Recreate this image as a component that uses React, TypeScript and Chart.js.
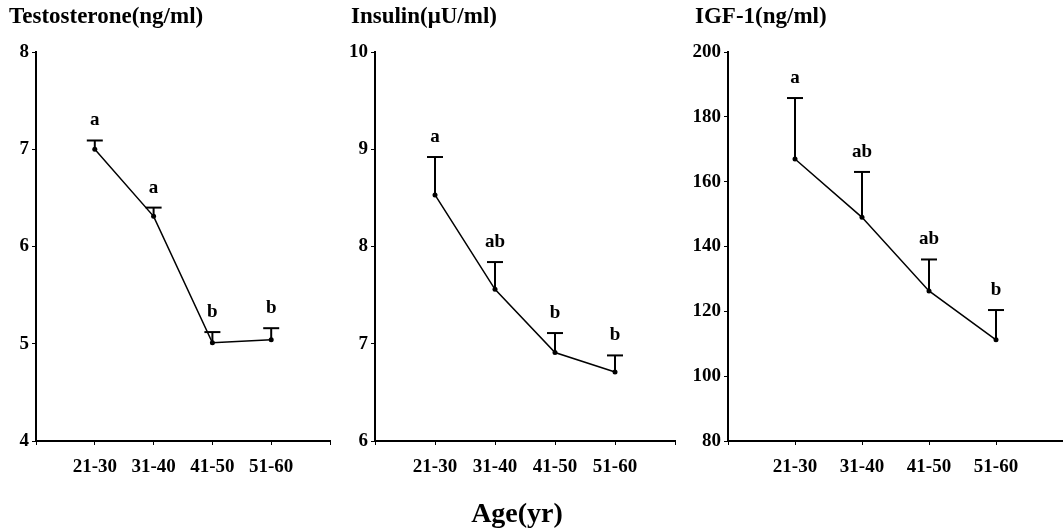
import React, { useEffect, useRef } from 'react';
import { Chart, registerables } from 'chart.js';

Chart.register(...registerables);

const categories = ['21-30', '31-40', '41-50', '51-60'];

const testosteroneMean = [7.0, 6.31, 5.01, 5.04];
const testosteroneErr = [0.09, 0.09, 0.11, 0.12];
const testosteroneLetters = ['a', 'a', 'b', 'b'];

const insulinMean = [8.53, 7.56, 6.91, 6.71];
const insulinErr = [0.39, 0.28, 0.2, 0.17];
const insulinLetters = ['a', 'ab', 'b', 'b'];

const igfMean = [167, 149, 126.3, 111.2];
const igfErr = [18.8, 14, 9.7, 9.2];
const igfLetters = ['a', 'ab', 'ab', 'b'];

const FONT = '"Liberation Serif", "Times New Roman", serif';
const H = 529;

type PanelProps = {
  title: string;
  values: number[];
  errors: number[];
  letters: string[];
  yMin: number;
  yMax: number;
  yStep: number;
  left: number;
  width: number;
  yAxisWidth: number;
  padRight: number;
  titleX: number;
};

function Panel(p: PanelProps) {
  const ref = useRef<HTMLCanvasElement | null>(null);
  useEffect(() => {
    if (!ref.current) return;
    const overlay = {
      id: 'overlay',
      afterDatasetsDraw(chart: any) {
        const ctx = chart.ctx;
        const xs = chart.scales.x;
        const ys = chart.scales.y;
        ctx.save();
        ctx.strokeStyle = '#000';
        ctx.fillStyle = '#000';
        p.values.forEach((v, i) => {
          const x = xs.getPixelForValue(i + 1);
          const y0 = ys.getPixelForValue(v);
          const y1 = ys.getPixelForValue(v + p.errors[i]);
          ctx.lineWidth = 2;
          ctx.beginPath();
          ctx.moveTo(x, y0);
          ctx.lineTo(x, y1);
          ctx.stroke();
          ctx.beginPath();
          ctx.moveTo(x - 8, y1);
          ctx.lineTo(x + 8, y1);
          ctx.stroke();
          ctx.font = `bold 19px ${FONT}`;
          ctx.textAlign = 'center';
          ctx.textBaseline = 'middle';
          ctx.fillText(p.letters[i], x, y1 - 20);
        });
        ctx.font = `bold 23px ${FONT}`;
        ctx.textAlign = 'left';
        ctx.textBaseline = 'middle';
        ctx.fillText(p.title, p.titleX - p.left, 17);
        ctx.restore();
      },
    };
    const chart = new Chart(ref.current, {
      type: 'line',
      data: {
        datasets: [
          {
            data: p.values.map((v, i) => ({ x: i + 1, y: v })),
            borderColor: '#000',
            borderWidth: 1.5,
            pointRadius: 2.5,
            pointBackgroundColor: '#000',
            pointBorderWidth: 0,
            tension: 0,
          },
        ],
      },
      options: {
        responsive: false,
        animation: false,
        layout: { padding: { top: 52, right: p.padRight, left: 0, bottom: 0 } },
        plugins: { legend: { display: false }, tooltip: { enabled: false } },
        scales: {
          x: {
            type: 'linear',
            min: 0,
            max: 5,
            afterFit: (s: any) => {
              s.height = 88;
            },
            ticks: {
              stepSize: 1,
              autoSkip: false,
              maxRotation: 0,
              padding: 11,
              color: '#000',
              font: { family: FONT, weight: 'bold', size: 19 },
              callback: (v: any) => (v >= 1 && v <= 4 ? categories[v - 1] : ''),
            },
            grid: { drawOnChartArea: false, drawTicks: true, tickLength: 4, color: '#000', lineWidth: 1 },
            border: { color: '#000', width: 2 },
          },
          y: {
            min: p.yMin,
            max: p.yMax,
            afterFit: (s: any) => {
              s.width = p.yAxisWidth;
            },
            ticks: {
              stepSize: p.yStep,
              padding: 3,
              color: '#000',
              font: { family: FONT, weight: 'bold', size: 19 },
            },
            grid: { drawOnChartArea: false, drawTicks: true, tickLength: 4, color: '#000', lineWidth: 1 },
            border: { color: '#000', width: 2 },
          },
        },
      },
      plugins: [overlay],
    } as any);
    return () => chart.destroy();
  }, []);
  return (
    <canvas
      ref={ref}
      width={p.width}
      height={H}
      style={{ position: 'absolute', left: p.left, top: 0, width: p.width, height: H }}
    />
  );
}

export default function App() {
  return (
    <div style={{ position: 'absolute', left: 0, top: 0, width: 1063, height: H, background: '#fff', overflow: 'hidden' }}>
      <Panel
        title="Testosterone(ng/ml)"
        values={testosteroneMean}
        errors={testosteroneErr}
        letters={testosteroneLetters}
        yMin={4}
        yMax={8}
        yStep={1}
        left={0}
        width={345}
        yAxisWidth={36}
        padRight={15}
        titleX={9}
      />
      <Panel
        title="Insulin(μU/ml)"
        values={insulinMean}
        errors={insulinErr}
        letters={insulinLetters}
        yMin={6}
        yMax={10}
        yStep={1}
        left={340}
        width={350}
        yAxisWidth={35}
        padRight={15}
        titleX={351}
      />
      <Panel
        title="IGF-1(ng/ml)"
        values={igfMean}
        errors={igfErr}
        letters={igfLetters}
        yMin={80}
        yMax={200}
        yStep={20}
        left={680}
        width={394}
        yAxisWidth={48}
        padRight={1}
        titleX={695}
      />
      <div
        style={{
          position: 'absolute',
          left: 0,
          width: 1034,
          top: 497,
          textAlign: 'center',
          fontFamily: FONT,
          fontWeight: 'bold',
          fontSize: 28,
          lineHeight: '32px',
          color: '#000',
        }}
      >
        Age(yr)
      </div>
    </div>
  );
}
